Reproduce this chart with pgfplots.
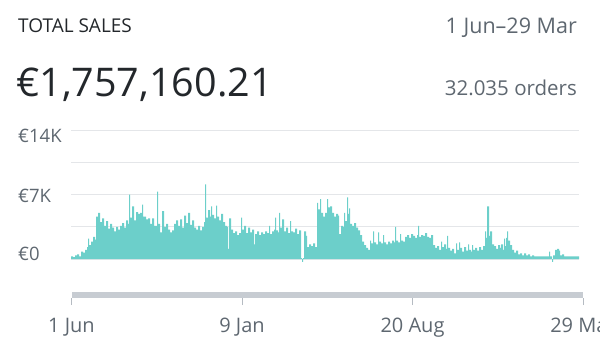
\documentclass[border=0pt]{standalone}
\usepackage{fontspec}
\setmainfont{Open Sans}
\usepackage{pgfplots}
\pgfplotsset{compat=1.18}
\usepackage{pgfplotstable}
\definecolor{teal1}{HTML}{6CCFCA}
\definecolor{txtdark}{HTML}{23272B}
\definecolor{txtgrey}{HTML}{5E6770}
\definecolor{gridc}{HTML}{E4E6E9}
\definecolor{barc}{HTML}{C7CCD2}
\definecolor{tickc}{HTML}{B5BBC2}

% daily sales (K EUR), px = horizontal position of the day in the reference
\pgfplotstableread{
px v
71 0.3
73 0.2
75 0.4
77 0.5
79 0.3
81 0.8
83 0.7
85 1.0
87 1.3
88 2.2
89 1.5
91 1.9
93 2.4
95 2.1
96 4.6
98 5.0
100 4.0
102 4.4
104 3.6
106 4.1
108 3.3
110 3.8
112 3.4
114 3.0
116 3.5
118 3.2
120 3.6
122 3.9
124 3.4
126 4.2
128 3.8
129 7.0
130 4.5
132 5.7
134 4.2
136 5.1
138 4.9
140 5.0
142 5.9
143 4.6
146 4.3
148 4.4
150 3.8
152 4.4
154 3.6
157 7.3
158 3.8
160 2.9
162 5.2
164 3.5
166 3.8
168 3.2
170 2.9
172 3.1
174 3.8
176 4.2
178 3.6
180 4.3
182 3.4
184 4.7
186 3.9
188 5.0
190 3.7
192 4.2
194 3.4
196 3.2
198 3.6
200 3.1
202 3.5
204 4.0
205 8.1
206 4.5
208 5.3
210 4.6
211 5.7
212 4.8
214 4.4
216 5.8
217 4.6
219 4.2
221 4.9
223 4.0
225 3.6
227 3.5
228 1.1
229 4.4
231 3.2
233 2.8
235 3.0
237 2.6
239 2.8
241 4.5
242 3.2
244 3.6
246 2.8
248 3.4
250 2.9
252 3.2
254 1.6
255 2.7
257 3.0
259 2.6
261 2.9
263 2.7
265 3.0
267 2.8
269 3.6
270 2.7
272 3.0
274 3.2
275 4.5
276 3.1
278 2.9
279 5.0
280 3.4
282 4.3
284 3.0
286 3.4
288 2.8
290 4.1
291 3.0
293 2.9
295 3.3
297 2.7
299 3.1
301 0.1
302 -0.3
303 0.1
304 3.0
306 2.5
307 1.3
309 1.6
311 1.4
313 1.7
315 1.3
317 6.1
318 5.4
320 6.5
321 5.0
323 4.6
325 5.0
327 6.5
328 5.6
330 5.7
332 5.0
334 4.6
336 4.9
338 4.7
339 2.7
341 3.6
343 3.5
344 5.0
345 4.1
347 6.7
348 4.9
349 5.5
350 3.8
352 3.6
354 3.9
356 3.4
358 3.1
360 2.6
362 1.9
364 1.5
366 1.2
368 1.0
370 2.0
371 1.7
373 3.0
374 1.8
376 1.6
378 2.9
379 1.9
381 1.7
383 2.6
384 1.8
386 1.6
388 1.9
390 1.7
392 2.0
394 1.8
395 3.5
396 2.0
398 1.8
400 2.7
401 2.0
403 1.9
405 2.4
407 2.6
409 2.3
411 2.7
413 2.5
415 2.3
417 2.6
418 3.6
419 2.4
421 2.6
423 2.5
425 2.8
427 2.4
429 2.3
431 2.6
433 1.5
435 1.2
437 1.4
439 1.0
441 1.9
442 1.3
444 1.6
446 1.1
447 2.5
448 1.2
450 0.9
452 1.1
454 0.6
456 1.7
457 1.0
459 1.8
460 1.2
462 0.8
464 1.3
466 0.9
468 1.6
469 1.0
471 0.8
472 1.5
473 1.0
475 1.2
477 0.9
479 1.3
481 1.0
483 1.4
485 3.0
486 2.3
487 5.7
489 2.5
490 3.0
492 1.6
494 1.4
496 1.1
498 1.5
500 1.2
501 1.6
503 1.0
504 2.2
505 1.4
506 2.3
507 3.0
508 2.0
510 1.5
512 1.0
514 0.7
516 0.9
518 0.5
520 0.6
522 0.4
524 0.6
526 0.4
528 0.5
530 0.3
532 0.4
534 0.3
536 0.3
538 0.3
540 0.3
542 0.3
544 0.3
546 0.3
548 0.3
549 0.8
550 0.3
552 -0.3
553 0.4
555 1.0
557 1.1
559 0.9
560 0.4
562 0.5
564 0.3
566 0.3
568 0.3
570 0.3
572 0.3
574 0.3
576 0.3
578 0.3
579 0.3
}\sales

\begin{document}
\begin{tikzpicture}[x=1pt,y=1pt]
\useasboundingbox (0,0) rectangle (600,360);

% header texts
\node[anchor=base west, inner sep=0, text=txtdark, font=\fontsize{19}{21}\selectfont] at (18,328) {TOTAL SALES};
\node[anchor=base west, inner sep=0, text=txtdark, font=\fontsize{39.5}{44}\selectfont] at (16,264) {€1,757,160.21};
\node[anchor=base east, inner sep=0, text=txtgrey, font=\fontsize{21.5}{23}\selectfont] at (577,327) {1 Jun–29 Mar};
\node[anchor=base east, inner sep=0, text=txtgrey, font=\fontsize{20.5}{22}\selectfont] at (577,265) {32.035 orders};

% y labels
\node[anchor=base west, inner sep=0, text=txtgrey, font=\fontsize{18.5}{20}\selectfont] at (18,217.4) {€14K};
\node[anchor=base west, inner sep=0, text=txtgrey, font=\fontsize{18.5}{20}\selectfont] at (18,157.4) {€7K};
\node[anchor=base west, inner sep=0, text=txtgrey, font=\fontsize{18.5}{20}\selectfont] at (18,99.4) {€0};

% main chart
\begin{axis}[
  at={(71pt,97.3pt)}, anchor=south west,
  scale only axis, width=508pt, height=132.7pt,
  xmin=0, xmax=661.4, ymin=-0.4, ymax=14,
  xtick=\empty, ytick={0,3.5,7,10.5,14}, yticklabels={},
  ymajorgrids, grid style={gridc, line width=1pt},
  axis line style={draw=none}, major tick length=0pt,
  clip=false,
]
\addplot[draw=none, fill=teal1, const plot]
  table[x expr=(\thisrow{px}-71)*1.302, y=v] {\sales} \closedcycle;
\end{axis}

% scroll bar
\fill[barc] (71.5,62) rectangle (583,68);
\begin{axis}[
  at={(71.5pt,55pt)}, anchor=south west,
  scale only axis, width=511.5pt, height=7pt,
  xmin=0, xmax=666, ymin=0, ymax=1,
  ytick=\empty,
  xtick={0,222,444,666}, xticklabels={1 Jun,9 Jan,20 Aug,29 Mar},
  xtick pos=bottom, tick align=inside, major tick length=7pt,
  tick style={draw=tickc, line width=1pt},
  axis line style={draw=none},
  xticklabel style={anchor=base, inner sep=0pt, yshift=-27pt, text=txtgrey, font=\fontsize{20}{22}\selectfont},
]
\end{axis}
\end{tikzpicture}
\end{document}
